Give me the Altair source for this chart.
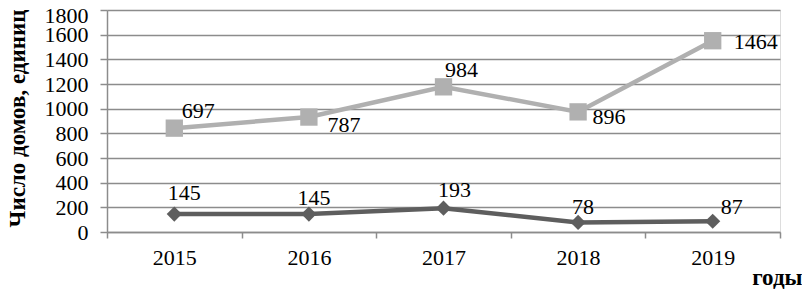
import altair as alt
import pandas as pd

years = ["2015", "2016", "2017", "2018", "2019"]
lower = [145, 145, 193, 78, 87]          # dark series (diamonds)
upper = [697, 787, 984, 896, 1464]       # light series (squares), stacked on top of dark
y_ticks = [0, 200, 400, 600, 800, 1000, 1200, 1400, 1600, 1800]

rows = []
for i, yr in enumerate(years):
    rows.append(dict(year=yr, series="lower", value=lower[i], pos=lower[i]))
    rows.append(dict(year=yr, series="upper", value=upper[i], pos=lower[i] + upper[i]))
df = pd.DataFrame(rows)

FONT = "Liberation Serif"
DARK = "#5e5e5e"
LIGHT = "#b0b0b0"
GRID = "#8c8c8c"
W, H = 673, 222

xenc = alt.X(
    "year:O",
    title="годы",
    scale=alt.Scale(type="band", paddingInner=0, paddingOuter=0),
    axis=alt.Axis(
        labelAngle=0, tickBand="extent", grid=False,
        domainColor=GRID, domainWidth=1.5, tickColor=GRID, tickWidth=1.5, tickSize=6,
        labelFont=FONT, labelFontSize=22, labelColor="black", labelPadding=9,
        titleFont=FONT, titleFontSize=23, titleFontWeight="bold", titleColor="black",
        titleAnchor=None, titleAlign="right", titleBaseline="alphabetic",
        titleX=695, titleY=52,
    ),
)
yenc = alt.Y(
    "pos:Q",
    scale=alt.Scale(domain=[0, 1800], nice=False),
    axis=alt.Axis(
        values=y_ticks, format="d", grid=True, gridColor=GRID, gridWidth=1.5,
        domainColor=GRID, domainWidth=1.5, tickColor=GRID, tickWidth=1.5, tickSize=7,
        labelFont=FONT, labelFontSize=22, labelColor="black", labelPadding=12,
        labelOverlap=False,
        labelOffset=alt.condition("datum.value == 1800", alt.value(5), alt.value(0)),
        title="Число домов, единиц",
        titleFont=FONT, titleFontSize=23, titleFontWeight="bold", titleColor="black",
        titleAngle=-90, titleAlign="left", titleBaseline="top",
        titleX=-101, titleY=217,
    ),
)

base = alt.Chart(df).encode(x=xenc, y=yenc)

line_low = base.transform_filter("datum.series == 'lower'").mark_line(color=DARK, strokeWidth=4.5)
line_up = base.transform_filter("datum.series == 'upper'").mark_line(color=LIGHT, strokeWidth=4.5)
pt_low = base.transform_filter("datum.series == 'lower'").mark_point(
    shape="diamond", filled=True, color=DARK, size=230, opacity=1)
pt_up = base.transform_filter("datum.series == 'upper'").mark_point(
    shape="square", filled=True, color=LIGHT, size=300, opacity=1)

# label placement (pixel offsets from marker), Excel-style
offsets = {
    ("upper", "2015"): (24, -17), ("upper", "2016"): (35, 8), ("upper", "2017"): (18, -17),
    ("upper", "2018"): (31, 5), ("upper", "2019"): (43, 1),
    ("lower", "2015"): (10, -21), ("lower", "2016"): (5, -16), ("lower", "2017"): (11, -18),
    ("lower", "2018"): (5, -15), ("lower", "2019"): (19, -14),
}
labels = []
for (s, yr), (dx, dy) in offsets.items():
    labels.append(
        base.transform_filter(f"datum.series == '{s}' && datum.year == '{yr}'")
        .mark_text(font=FONT, fontSize=22, color="black", dx=dx, dy=dy,
                   align="center", baseline="middle")
        .encode(text="value:Q")
    )

chart = alt.layer(line_low, line_up, pt_low, pt_up, *labels).properties(
    width=W, height=H,
    autosize=alt.AutoSizeParams(type="none"),
    padding={"left": 99, "top": 2, "right": 22, "bottom": 58},
).configure_view(stroke=None).configure(background="white")

chart.save("out.html", embed_options={"renderer": "svg", "actions": False})
